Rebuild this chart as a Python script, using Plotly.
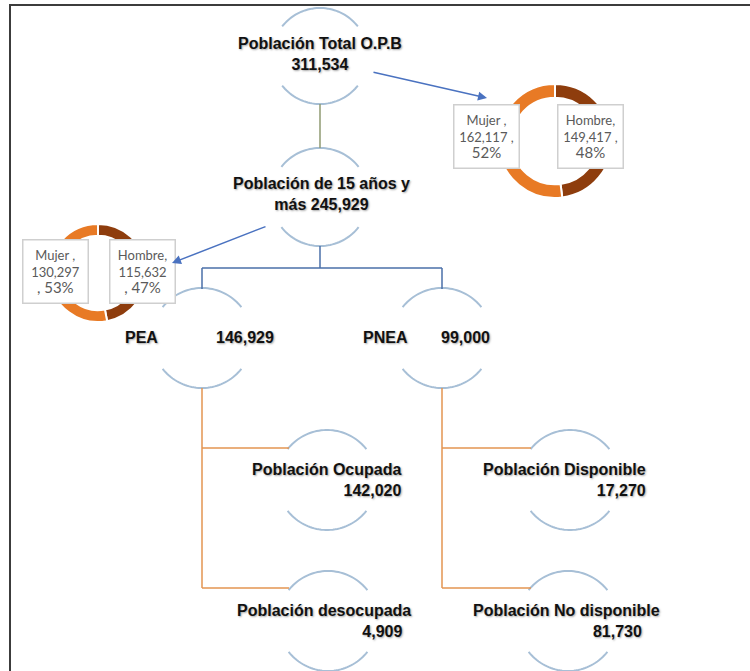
import numpy as np
import plotly.graph_objects as go

W, H = 750, 671

# ---------------- data ----------------
node_title = ["Población Total O.P.B", "Población de 15 años y", "PEA", "PNEA",
              "Población Ocupada", "Población Disponible",
              "Población desocupada", "Población No disponible"]
node_prefix = ["", "más ", "", "", "", "", "", ""]
node_values = [311534, 245929, 146929, 99000, 142020, 17270, 4909, 81730]

sex_labels = ["Mujer", "Hombre"]
sex_total = [162117, 149417]        # Población Total O.P.B
sex_15plus = [130297, 115632]       # Población de 15 años y más
sex_colors = ["#E87A25", "#8E3D0D"]

# ---------------- layout helpers (pixel -> paper) ----------------
def px(x):
    return x / W

def py(y):
    return 1 - y / H

# circle node geometry (cx, cy, r) in pixels
circles = [(320, 56, 48), (320, 197, 49), (202, 338, 50), (442, 338, 50),
           (327, 480, 50), (570, 480, 50), (328, 621, 50), (568, 621, 50)]

# text placement of each node: (x, y, anchor, stacked, trailing pad for value line)
text_pos = [(320, 54, "center", True, 0), (321, 194, "center", True, 0),
            None, None,
            (403, 480, "right", True, 0), (648, 480, "right", True, 0),
            (413, 621, "right", True, 2), (662, 621, "right", True, 4)]
# single-line nodes (PEA / PNEA): title pos and value pos
inline_pos = {2: ((141, 337), (245, 337)), 3: ((385, 337), (466, 337))}

fig = go.Figure()

# donut charts (Hombre drawn first, clockwise from 12 o'clock -> right side)
donut_geo = [(555, 141, 57), (98, 273, 49)]
for vals, (cx, cy, r) in zip([sex_total, sex_15plus], donut_geo):
    fig.add_trace(go.Pie(
        labels=sex_labels[::-1], values=vals[::-1], hole=0.76, sort=False,
        direction="clockwise", rotation=0,
        marker=dict(colors=sex_colors[::-1], line=dict(color="white", width=2)),
        textinfo="none", hoverinfo="label+value+percent", showlegend=False,
        domain=dict(x=[px(cx - r), px(cx + r)], y=[py(cy + r), py(cy - r)]),
    ))

shapes = []

# frame
shapes.append(dict(type="rect", xref="paper", yref="paper",
                   x0=px(10), x1=px(770), y0=py(690), y1=py(5),
                   line=dict(color="#3c3c3c", width=2), layer="below"))

# arcs of circle nodes
t = np.radians(np.linspace(-52, 52, 40))
for cx, cy, r in circles:
    for sgn in (-1, 1):
        xs = cx + r * np.sin(t)
        ys = cy + sgn * r * np.cos(t)
        path = "M " + " L ".join(f"{px(a):.5f},{py(b):.5f}" for a, b in zip(xs, ys))
        shapes.append(dict(type="path", xref="paper", yref="paper", path=path,
                           line=dict(color="#a7bfd6", width=2)))

def seg(x0, y0, x1, y1, color, w=1.5):
    shapes.append(dict(type="line", xref="paper", yref="paper",
                       x0=px(x0), y0=py(y0), x1=px(x1), y1=py(y1),
                       line=dict(color=color, width=w)))

# connectors
seg(320, 104, 320, 148, "#8f9a72")
blue = "#4a6fa8"
seg(320, 246, 320, 268, blue)
seg(202, 268, 442, 268, blue)
seg(202, 268, 202, 289, blue)
seg(442, 268, 442, 289, blue)
orange = "#E39450"
for x0, x1 in [(202, 289), (442, 531)]:
    seg(x0, 388, x0, 588, orange)
    seg(x0, 448, x1, 448, orange)
    seg(x0, 588, x1, 588, orange)

annotations = []
node_font = dict(family="Liberation Sans, Arial, sans-serif", size=16, color="#111111",
                 shadow="1px 1px 2px rgba(0,0,0,0.35)")
for i in range(len(node_title)):
    val = f"{node_prefix[i]}{node_values[i]:,}"
    if i in inline_pos:
        (tx, ty), (vx, vy) = inline_pos[i]
        for s, (x, y) in [(node_title[i], (tx, ty)), (val, (vx, vy))]:
            annotations.append(dict(xref="paper", yref="paper", x=px(x), y=py(y),
                                    text=f"<b>{s}</b>", showarrow=False,
                                    xanchor="center", yanchor="middle", font=node_font))
    else:
        x, y, anc, _, pad = text_pos[i]
        txt = f"<b>{node_title[i]}<br>{val}{'&nbsp;' * pad}</b>"
        annotations.append(dict(xref="paper", yref="paper", x=px(x), y=py(y), text=txt,
                                showarrow=False, xanchor=anc, yanchor="middle", align=anc,
                                font=node_font))

# label boxes for donuts
box_font = dict(family="Lato, Carlito, Open Sans, sans-serif", size=13, color="#5a5a5a")
def pct(v, tot):
    return round(100 * v / tot)

top_tot = sum(sex_total)
left_tot = sum(sex_15plus)
top_texts = [f"{sex_labels[0]} ,<br>{sex_total[0]:,} ,<br><span style='font-size:15px'>{pct(sex_total[0], top_tot)}%</span>",
             f"{sex_labels[1]},<br>{sex_total[1]:,} ,<br><span style='font-size:15px'>{pct(sex_total[1], top_tot)}%</span>"]
left_texts = [f"{sex_labels[0]} ,<br>{sex_15plus[0]:,}<br><span style='font-size:15px'>, {pct(sex_15plus[0], left_tot)}%</span>",
              f"{sex_labels[1]},<br>{sex_15plus[1]:,}<br><span style='font-size:15px'>, {pct(sex_15plus[1], left_tot)}%</span>"]
box_centers = [(486, 136), (590, 136), (55, 271), (142, 271)]
for txt, (bx, by) in zip(top_texts + left_texts, box_centers):
    annotations.append(dict(xref="paper", yref="paper", x=px(bx), y=py(by), text=txt,
                            showarrow=False, xanchor="center", yanchor="middle",
                            width=60, height=58, align="center", font=box_font,
                            bgcolor="white", bordercolor="#cfcfcf", borderwidth=1.5, borderpad=2))

# arrows
for (x0, y0), (x1, y1) in [((372, 72), (487, 98)), ((267, 226), (172, 263))]:
    annotations.append(dict(xref="paper", yref="paper", axref="pixel", ayref="pixel",
                            x=px(x1), y=py(y1), ax=x0 - x1, ay=y0 - y1,
                            text="", showarrow=True, arrowhead=2, arrowsize=1.2,
                            arrowwidth=1.5, arrowcolor="#4a72c0"))

fig.update_layout(
    width=W, height=H, margin=dict(l=0, r=0, t=0, b=0),
    paper_bgcolor="white", plot_bgcolor="white",
    shapes=shapes, annotations=annotations, showlegend=False,
)
fig.write_html("out.html", config={"displayModeBar": False},
               post_script="document.body.style.margin='0';document.body.style.overflow='hidden';")
